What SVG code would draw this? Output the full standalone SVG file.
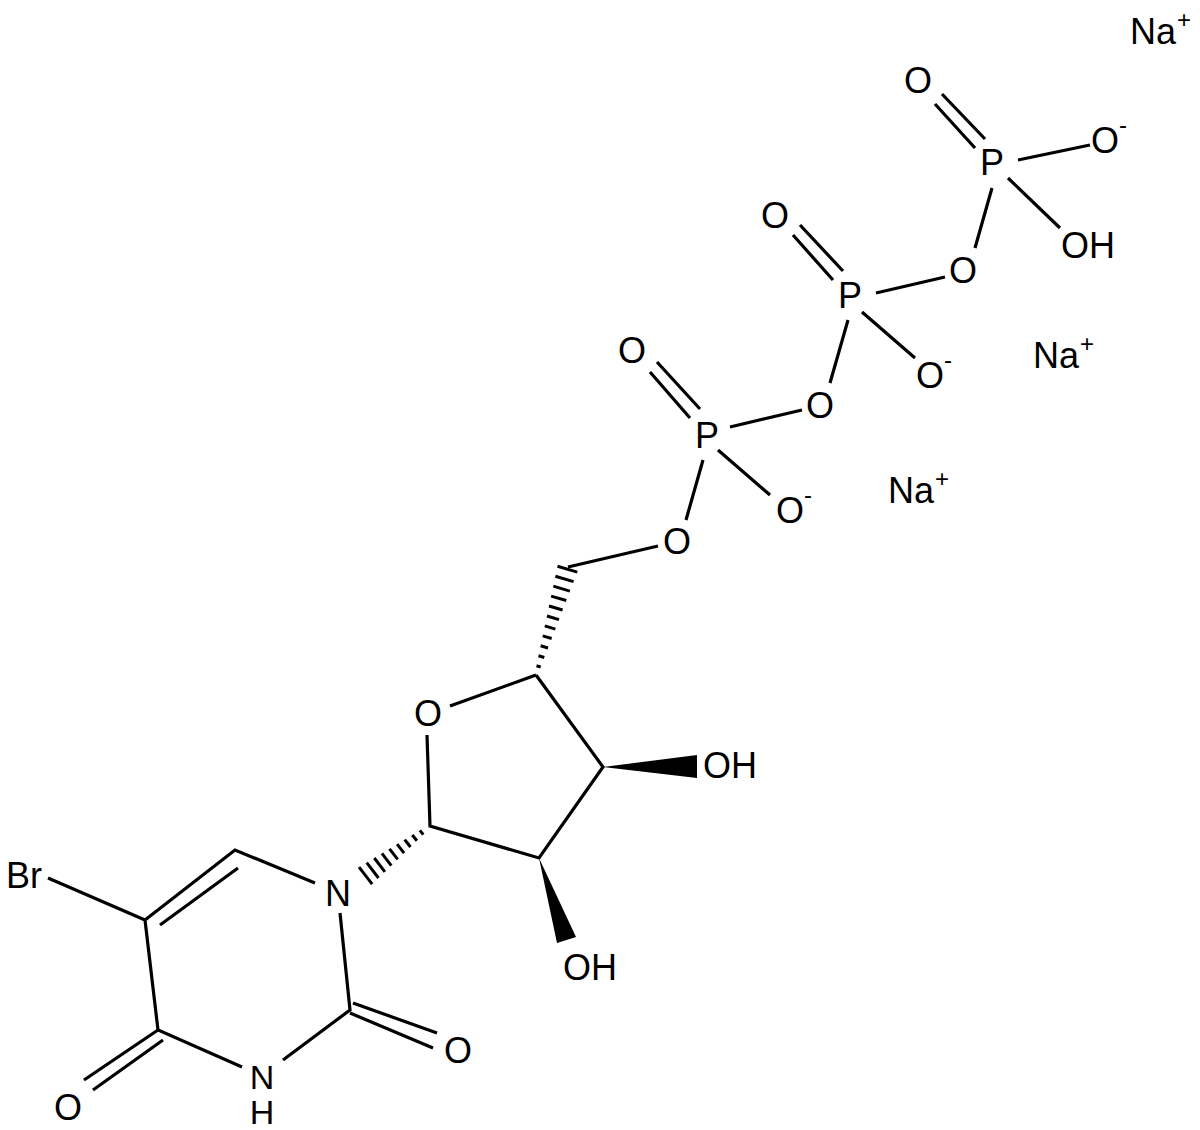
<svg xmlns="http://www.w3.org/2000/svg" width="1200" height="1130" viewBox="0 0 1200 1130">
<style>
.b{stroke:#000;stroke-width:3.2;fill:none;stroke-linecap:butt}
.h{stroke:#000;stroke-width:3;fill:none}
.t{font-family:"Liberation Sans",Arial,sans-serif;font-size:36px;fill:#000;text-anchor:middle}
.s{font-family:"Liberation Sans",Arial,sans-serif;font-size:24px;fill:#000}
.l{font-family:"Liberation Sans",Arial,sans-serif;font-size:36px;fill:#000}
</style>
<rect width="1200" height="1130" fill="#fff"/>
<g id="bonds">
<path class="b" d="M935,104L975,148M942,94L985,139M1018,160L1090,145M1008,178L1060,228M992,188L975,248M945,277L876,293"/>
<path class="b" d="M793,235L833,280M800,225L843,271M862,312L915,358M848,320L830,383M802,410L730,427"/>
<path class="b" d="M650,372L690,418M657,362L700,409M718,450L770,495M703,460L686,520M658,546L568,567"/>
<path class="h" d="M536.5,665.8L540.7,667M538.5,655.7L544.3,657.5M540.6,645.8L548,648M542.7,635.9L551.7,638.5M544.8,625.9L555.4,629.1M547,616L559,619.6M549,606L562.6,610M551.1,596.1L566.3,600.5M553.3,586.1L569.9,591.1M555.4,576.2L573.6,581.6M557.5,566.3L577.3,572.1"/>
<path class="b" d="M536,675L450,706M427,735L430,826L539,858L603,767L536,675"/>
<polygon points="603,767 697,755 697,778" fill="#000"/>
<polygon points="539,858 576,937 557,943" fill="#000"/>
<path class="h" d="M419.9,830.4L423.3,834.6M412.3,835L416.9,840.8M404.7,839.6L410.5,847M397.1,844.2L404.1,853.2M389.5,848.8L397.7,859.4M381.9,853.4L391.3,865.6M374.3,858L384.9,871.8M366.7,862.6L378.5,878M359,867.2L372.2,884.2"/>
<path class="b" d="M315,883L235,850L145,920M160,925L238,868M48,878L145,920M145,920L158,1030L242,1067M283,1060L350,1010L340,913"/>
<path class="b" d="M353,1003L437,1033M350,1013L433,1048M158,1030L84,1080M163,1040L93,1090"/>
</g>
<g id="na1"><text class="l" x="1130" y="44">Na</text><text class="s" x="1177" y="28">+</text></g>
<g id="na2"><text class="l" x="1033" y="368">Na</text><text class="s" x="1080" y="352">+</text></g>
<g id="na3"><text class="l" x="888" y="503">Na</text><text class="s" x="935" y="487">+</text></g>
<g id="o1"><text class="t" x="918" y="93">O</text></g>
<g id="p3"><text class="t" x="992" y="175">P</text></g>
<g id="o2"><text class="t" x="1105" y="153">O</text><text class="s" x="1119" y="133">-</text></g>
<g id="oh1"><text class="t" x="1088" y="258">OH</text></g>
<g id="o3"><text class="t" x="963" y="283">O</text></g>
<g id="o4"><text class="t" x="775" y="228">O</text></g>
<g id="p2"><text class="t" x="850" y="308">P</text></g>
<g id="o5"><text class="t" x="930" y="388">O</text><text class="s" x="944" y="368">-</text></g>
<g id="o6"><text class="t" x="820" y="418">O</text></g>
<g id="o7"><text class="t" x="632" y="363">O</text></g>
<g id="p1"><text class="t" x="707" y="448">P</text></g>
<g id="o8"><text class="t" x="790" y="523">O</text><text class="s" x="804" y="503">-</text></g>
<g id="o9"><text class="t" x="677" y="554">O</text></g>
<g id="oring"><text class="t" x="428" y="726">O</text></g>
<g id="oh2"><text class="t" x="730" y="778">OH</text></g>
<g id="oh3"><text class="t" x="590" y="980">OH</text></g>
<g id="n1"><text class="t" x="338" y="906">N</text></g>
<g id="br"><text class="l" x="6" y="888">Br</text></g>
<g id="n3"><text class="t" x="262" y="1089" style="font-size:34px">N</text><text class="t" x="262" y="1124" style="font-size:34px">H</text></g>
<g id="o10"><text class="t" x="458" y="1063">O</text></g>
<g id="o11"><text class="t" x="68" y="1120">O</text></g>
</svg>
